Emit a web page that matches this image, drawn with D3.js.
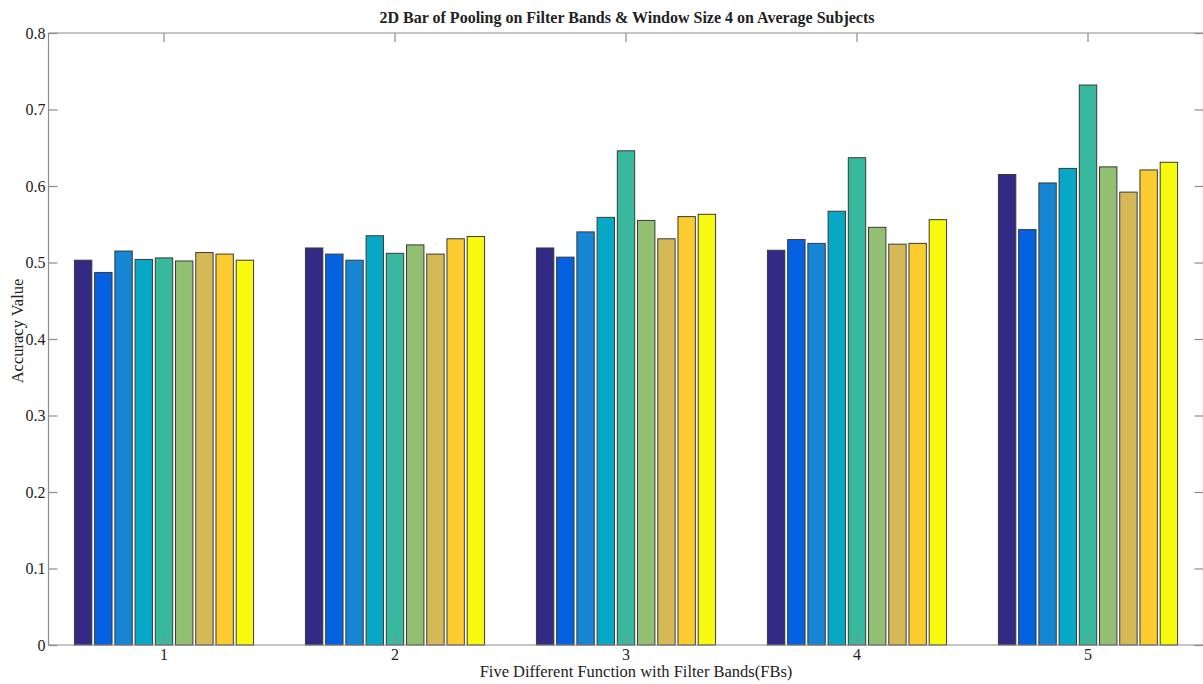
<!DOCTYPE html>
<html>
<head>
<meta charset="utf-8">
<script src="https://cdn.jsdelivr.net/npm/d3@7"></script>
<style>
  html, body { margin: 0; padding: 0; background: #fff; }
  svg { display: block; }
  text { font-family: "Liberation Serif", "Times New Roman", serif; fill: #222; }
</style>
</head>
<body>
<svg id="chart" width="1203" height="684"></svg>
<script>
// Groups along the x axis
const categories = ["1", "2", "3", "4", "5"];

// Nine pooling variants (one bar each per group)
const seriesNames = ["S1", "S2", "S3", "S4", "S5", "S6", "S7", "S8", "S9"];
const seriesColors = ["#332a86", "#0462e0", "#1585d4", "#06a8c6", "#38b89c",
                      "#93bf72", "#d5b957", "#fccb2f", "#f8fa0e"];

// Accuracy per group, one row per group, one value per series
const group1 = [0.503, 0.487, 0.515, 0.504, 0.506, 0.502, 0.513, 0.511, 0.503];
const group2 = [0.519, 0.511, 0.503, 0.535, 0.512, 0.523, 0.511, 0.531, 0.534];
const group3 = [0.519, 0.507, 0.540, 0.559, 0.646, 0.555, 0.531, 0.560, 0.563];
const group4 = [0.516, 0.530, 0.525, 0.567, 0.637, 0.546, 0.524, 0.525, 0.556];
const group5 = [0.615, 0.543, 0.604, 0.623, 0.732, 0.625, 0.592, 0.621, 0.631];
const values = [group1, group2, group3, group4, group5];

const yTicks = [0, 0.1, 0.2, 0.3, 0.4, 0.5, 0.6, 0.7, 0.8];

const titleText = "2D Bar of Pooling on Filter Bands & Window Size 4 on Average Subjects";
const xLabel = "Five Different Function with Filter Bands(FBs)";
const yLabel = "Accuracy Value";

const svg = d3.select("#chart");
const plot = { left: 48.5, right: 1203.5, top: 33, bottom: 645 };

const x0 = d3.scaleBand().domain(categories)
  .range([plot.left, plot.right]).paddingInner(0.2).paddingOuter(0.1);
const x1 = d3.scaleBand().domain(seriesNames)
  .range([0, x0.bandwidth()]).padding(0.14);
const y = d3.scaleLinear().domain([0, 0.8]).range([plot.bottom, plot.top]);

// Bars
const groups = svg.append("g").selectAll("g")
  .data(categories).join("g")
  .attr("transform", c => `translate(${x0(c)},0)`);

groups.selectAll("rect")
  .data((c, i) => values[i].map((v, j) => ({ v, s: seriesNames[j], color: seriesColors[j] })))
  .join("rect")
  .attr("x", d => x1(d.s))
  .attr("y", d => y(d.v))
  .attr("width", x1.bandwidth())
  .attr("height", d => y(0) - y(d.v))
  .attr("fill", d => d.color)
  .attr("stroke", "#3a3a3a")
  .attr("stroke-width", 1);

// Box and inward ticks
const axisColor = "#8c8c8c";
const tickLen = 9;
const frame = svg.append("g").attr("stroke", axisColor).attr("stroke-width", 1.2).attr("fill", "none");
frame.append("line").attr("x1", plot.left).attr("x2", plot.right).attr("y1", plot.top).attr("y2", plot.top);
frame.append("line").attr("x1", plot.left).attr("x2", plot.right).attr("y1", plot.bottom).attr("y2", plot.bottom);
frame.append("line").attr("x1", plot.left).attr("x2", plot.left).attr("y1", plot.top).attr("y2", plot.bottom);
frame.append("line").attr("x1", plot.right).attr("x2", plot.right).attr("y1", plot.top).attr("y2", plot.bottom);

// Left axis
const yAxis = d3.axisLeft(y).tickValues(yTicks).tickSizeInner(-tickLen).tickSizeOuter(0)
  .tickPadding(3)
  .tickFormat(d => d === 0 ? "0" : d.toFixed(1));
const gy = svg.append("g").attr("transform", `translate(${plot.left},0)`).call(yAxis);
gy.select(".domain").remove();
gy.selectAll("line").attr("stroke", axisColor).attr("stroke-width", 1.2);
gy.selectAll("text").style("font-size", "16px").attr("fill", "#222");

// Right ticks
const yRight = d3.axisRight(y).tickValues(yTicks).tickSizeInner(-tickLen).tickSizeOuter(0).tickFormat("");
const gyr = svg.append("g").attr("transform", `translate(${plot.right},0)`).call(yRight);
gyr.select(".domain").remove();
gyr.selectAll("line").attr("stroke", axisColor).attr("stroke-width", 1.2);

// Bottom axis
const xAxis = d3.axisBottom(x0).tickSizeInner(-tickLen).tickSizeOuter(0).tickPadding(4);
const gx = svg.append("g").attr("transform", `translate(0,${plot.bottom})`).call(xAxis);
gx.select(".domain").remove();
gx.selectAll("line").attr("stroke", axisColor).attr("stroke-width", 1.2);
gx.selectAll("text").style("font-size", "16px").attr("fill", "#222");

// Top ticks
const xTop = d3.axisTop(x0).tickSizeInner(-tickLen).tickSizeOuter(0).tickFormat("");
const gxt = svg.append("g").attr("transform", `translate(0,${plot.top})`).call(xTop);
gxt.select(".domain").remove();
gxt.selectAll("line").attr("stroke", axisColor).attr("stroke-width", 1.2);

// Title and axis labels
const cx = (plot.left + plot.right) / 2;
svg.append("text").attr("x", cx + 1).attr("y", 23)
  .attr("text-anchor", "middle").style("font-size", "16px").style("font-weight", "bold")
  .text(titleText);
svg.append("text").attr("x", cx + 10).attr("y", 677)
  .attr("text-anchor", "middle").style("font-size", "16.5px")
  .text(xLabel);
svg.append("text")
  .attr("transform", `translate(23,331) rotate(-90)`)
  .attr("text-anchor", "middle").style("font-size", "16.5px")
  .text(yLabel);
</script>
</body>
</html>
